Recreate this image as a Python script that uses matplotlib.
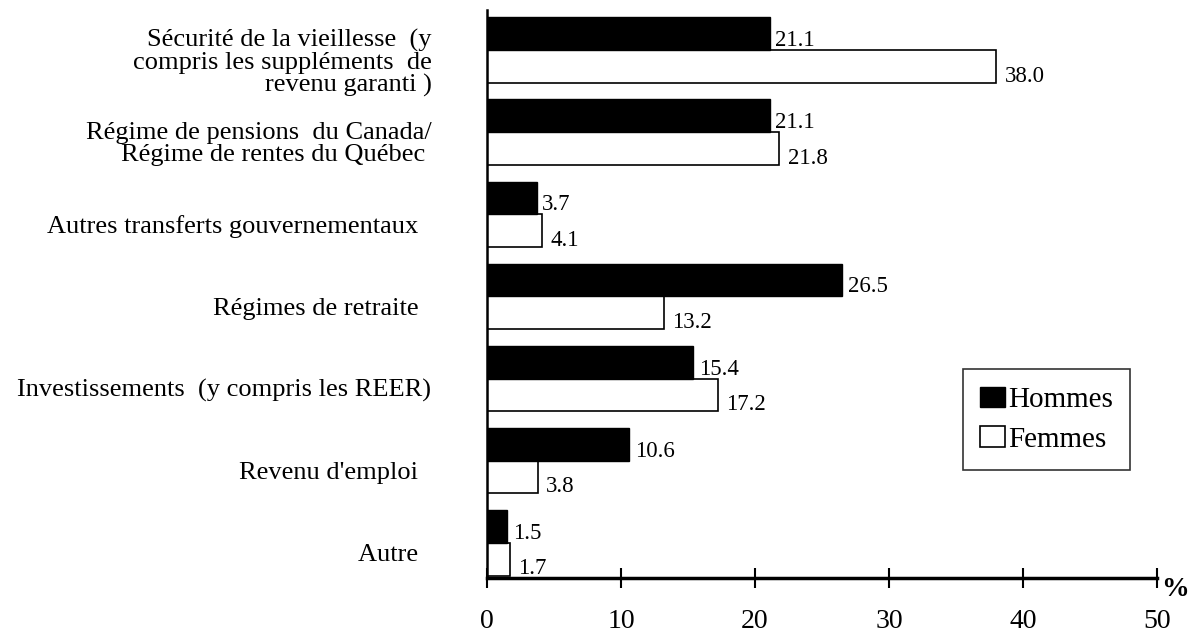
import numpy as np
import matplotlib.pyplot as plt
import matplotlib.transforms as mtransforms

plt.rcParams['font.family'] = ['Liberation Serif', 'DejaVu Serif']

# data
categories = [
    "Sécurité de la vieillesse  (y\ncompris les suppléments  de\nrevenu garanti )",
    "Régime de pensions  du Canada/\nRégime de rentes du Québec ",
    "Autres transferts gouvernementaux  ",
    "Régimes de retraite  ",
    "Investissements  (y compris les REER)",
    "Revenu d'emploi  ",
    "Autre  ",
]
hommes = [21.1, 21.1, 3.7, 26.5, 15.4, 10.6, 1.5]
femmes = [38.0, 21.8, 4.1, 13.2, 17.2, 3.8, 1.7]
xticks = [0, 10, 20, 30, 40, 50]

n = len(categories)
pos = np.arange(n)[::-1].astype(float)
h = 0.40

fig = plt.figure(figsize=(11.92, 6.35), dpi=100)
ax = fig.add_axes([0.4086, 0.0898, 0.5621, 0.8945])

# white bars first, black on top
bf = ax.barh(pos - h / 2, femmes, height=h, color='white', edgecolor='black',
             linewidth=1.2, label='Femmes', zorder=2)
bh = ax.barh(pos + h / 2, hommes, height=h, color='black', edgecolor='black',
             linewidth=1.0, label='Hommes', zorder=3)

for y, v in zip(pos + h / 2, hommes):
    ax.annotate(format(v, ".1f"), (v, y), xytext=(4, -5), textcoords='offset points',
                ha='left', va='center', fontsize=16.5, zorder=4)
for y, v in zip(pos - h / 2, femmes):
    ax.annotate(format(v, ".1f"), (v, y), xytext=(6, -7), textcoords='offset points',
                ha='left', va='center', fontsize=16.5, zorder=4)

ax.set_xlim(0, 50)
ax.set_ylim(-0.43, 6.49)

ax.set_yticks(pos)
ax.set_yticklabels(categories, fontsize=19, ha='right', multialignment='right',
                   linespacing=1.0)
ax.tick_params(axis='y', length=0, pad=40)
off = mtransforms.ScaledTranslation(0, -7 / 72, fig.dpi_scale_trans)
for lab in ax.get_yticklabels():
    lab.set_transform(lab.get_transform() + off)

ax.set_xticks(xticks)
ax.set_xticklabels([str(t) for t in xticks], fontsize=20)
ax.tick_params(axis='x', direction='inout', length=14, width=1.5, pad=15)

for s in ['top', 'right']:
    ax.spines[s].set_visible(False)
ax.spines['bottom'].set_linewidth(2.5)
ax.spines['left'].set_linewidth(1.8)

pct_off = mtransforms.ScaledTranslation(0, -8 / 72, fig.dpi_scale_trans)
ax.text(1.006, 0.0, "%", transform=ax.transAxes + pct_off, fontsize=20,
        fontweight='bold', ha='left', va='center')

leg = ax.legend(handles=[bh, bf], loc='lower left', bbox_to_anchor=(0.71, 0.19),
                fontsize=21, frameon=True, fancybox=False, shadow=False,
                handlelength=0.85, handleheight=0.7, handletextpad=0.1,
                borderpad=0.6, labelspacing=0.45, borderaxespad=0)
leg.get_frame().set_edgecolor('black')
leg.get_frame().set_linewidth(1.2)

plt.savefig('out.png', dpi=100)
